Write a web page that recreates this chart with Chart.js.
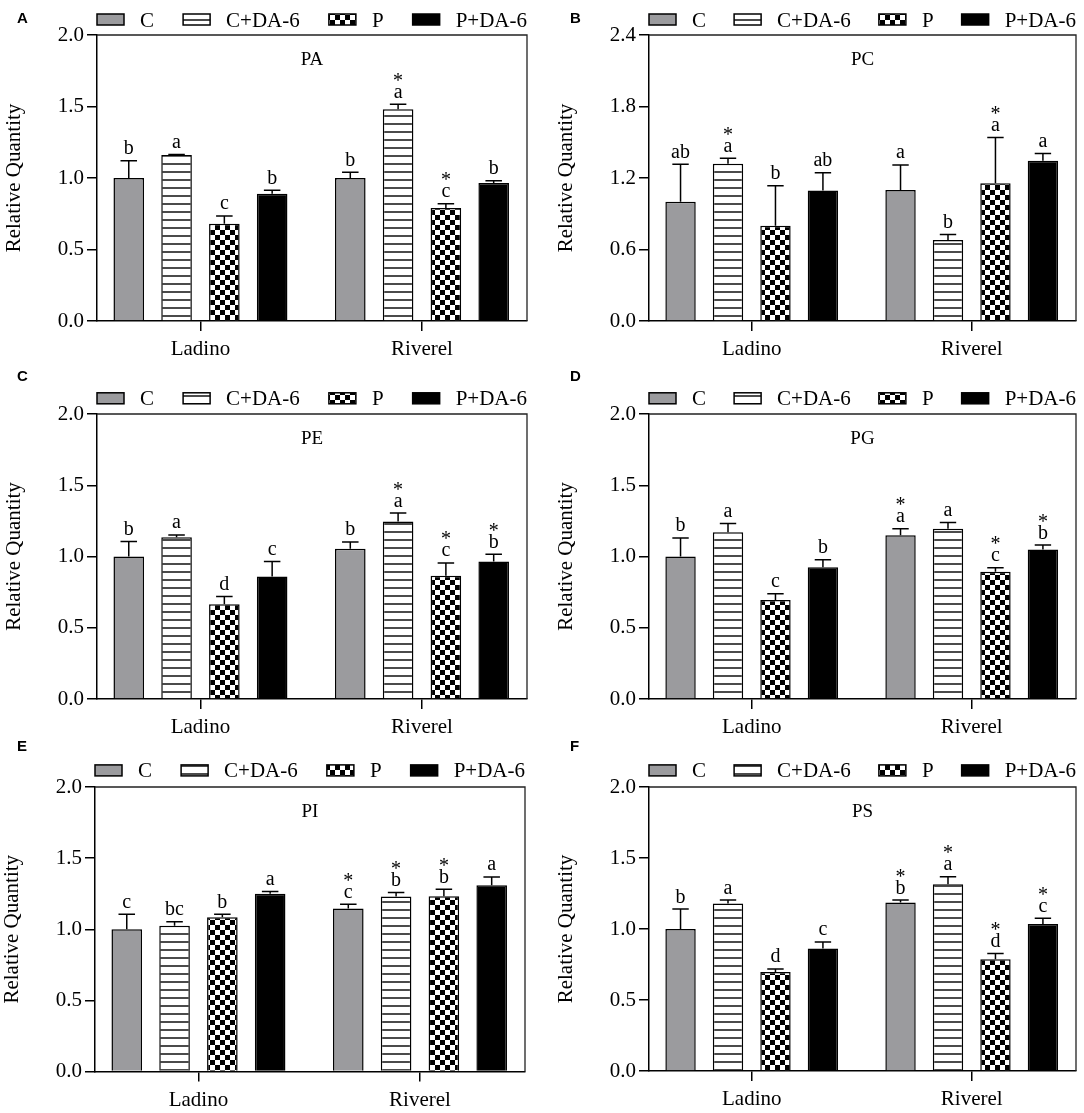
<!DOCTYPE html>
<html><head><meta charset="utf-8">
<script src="https://cdn.jsdelivr.net/npm/chart.js@4.4.1/dist/chart.umd.min.js"></script>
<style>
html,body{margin:0;padding:0;background:#fff;}
#wrap{position:relative;width:1084px;height:1113px;overflow:hidden;background:#fff;}
.pane{position:absolute;}
.pane canvas{display:block;}
</style></head><body><div id="wrap"></div>
<script>
// ---------- data ----------
const cultivars = ['Ladino', 'Riverel'];
const treatments = ['C', 'C+DA-6', 'P', 'P+DA-6'];
const panelLetters = ['A', 'B', 'C', 'D', 'E', 'F'];
const lipidNames = ['PA', 'PC', 'PE', 'PG', 'PI', 'PS'];
const yMax = [2.0, 2.4, 2.0, 2.0, 2.0, 2.0];
const yStep = [0.5, 0.6, 0.5, 0.5, 0.5, 0.5];

// rows = treatments (C, C+DA-6, P, P+DA-6), columns = cultivars (Ladino, Riverel)
const paMean = [[1.00, 1.00], [1.16, 1.48], [0.68, 0.79], [0.89, 0.965]];
const paErr  = [[0.12, 0.04], [0.005, 0.035], [0.055, 0.03], [0.025, 0.015]];
const paSig  = [['b', 'b'], ['a', 'a'], ['c', 'c'], ['b', 'b']];
const paStar = [[0, 0], [0, 1], [0, 1], [0, 0]];

const pcMean = [[1.00, 1.10], [1.32, 0.68], [0.80, 1.155], [1.095, 1.345]];
const pcErr  = [[0.315, 0.21], [0.045, 0.045], [0.335, 0.385], [0.15, 0.06]];
const pcSig  = [['ab', 'a'], ['a', 'b'], ['b', 'a'], ['ab', 'a']];
const pcStar = [[0, 0], [1, 0], [0, 1], [0, 0]];

const peMean = [[1.00, 1.055], [1.135, 1.245], [0.665, 0.865], [0.86, 0.965]];
const peErr  = [[0.105, 0.047], [0.016, 0.06], [0.055, 0.09], [0.105, 0.05]];
const peSig  = [['b', 'b'], ['a', 'a'], ['d', 'c'], ['c', 'b']];
const peStar = [[0, 0], [0, 1], [0, 1], [0, 1]];

const pgMean = [[1.00, 1.15], [1.17, 1.195], [0.695, 0.893], [0.925, 1.05]];
const pgErr  = [[0.13, 0.045], [0.062, 0.044], [0.044, 0.028], [0.052, 0.03]];
const pgSig  = [['b', 'a'], ['a', 'a'], ['c', 'c'], ['b', 'b']];
const pgStar = [[0, 1], [0, 0], [0, 1], [0, 1]];

const piMean = [[1.00, 1.145], [1.025, 1.23], [1.085, 1.232], [1.25, 1.31]];
const piErr  = [[0.105, 0.03], [0.028, 0.028], [0.02, 0.05], [0.016, 0.058]];
const piSig  = [['c', 'c'], ['bc', 'b'], ['b', 'b'], ['a', 'a']];
const piStar = [[0, 1], [0, 1], [0, 1], [0, 0]];

const psMean = [[1.00, 1.187], [1.18, 1.316], [0.698, 0.787], [0.862, 1.035]];
const psErr  = [[0.14, 0.017], [0.024, 0.052], [0.021, 0.04], [0.047, 0.04]];
const psSig  = [['b', 'b'], ['a', 'a'], ['d', 'd'], ['c', 'c']];
const psStar = [[0, 1], [0, 1], [0, 1], [0, 1]];

const means = [paMean, pcMean, peMean, pgMean, piMean, psMean];
const errs  = [paErr, pcErr, peErr, pgErr, piErr, psErr];
const sigs  = [paSig, pcSig, peSig, pgSig, piSig, psSig];
const stars = [paStar, pcStar, peStar, pgStar, piStar, psStar];

// ---------- layout (canvas box and plot area, px) ----------
// [left, top, width, height, plotL, plotR, plotT, plotB, legendY, letterX, letterBase]
const panes = [
  [0,   0,   540, 385, 97,  527, 35, 321,   19.5, 17, 23],
  [540, 0,   544, 385, 109, 536, 35, 321,   19.5, 30, 23],
  [0,   360, 540, 390, 97,  527, 54, 339,   38.3, 17, 21],
  [540, 360, 544, 390, 109, 536, 54, 339,   38.3, 30, 21],
  [0,   730, 540, 383, 95,  525, 57, 341.5, 40.4, 17, 21],
  [540, 730, 544, 383, 109, 536, 57, 341,   40.4, 30, 21]
];
const xAxisH = 60; // height reserved below the plot for the category axis
const EDGE = 0.467, SPAN = 1.941; // category-centre offsets in category units

Chart.defaults.font.family = '"Liberation Serif", "Times New Roman", serif';
Chart.defaults.color = '#000';

function makeHLines() {
  const c = document.createElement('canvas'); c.width = 8; c.height = 8;
  const g = c.getContext('2d');
  g.fillStyle = '#fff'; g.fillRect(0, 0, 8, 8);
  g.fillStyle = '#111'; g.fillRect(0, 3.25, 8, 1.5);
  return g.createPattern(c, 'repeat');
}
function makeChecker() {
  const c = document.createElement('canvas'); c.width = 10; c.height = 10;
  const g = c.getContext('2d');
  g.fillStyle = '#fff'; g.fillRect(0, 0, 10, 10);
  g.fillStyle = '#000'; g.fillRect(0, 0, 5, 5); g.fillRect(5, 5, 5, 5);
  return g.createPattern(c, 'repeat');
}

const decor = {
  id: 'decor',
  afterDatasetsDraw(chart) {
    const ctx = chart.ctx, ys = chart.scales.y;
    ctx.save();
    chart.data.datasets.forEach((ds, di) => {
      const meta = chart.getDatasetMeta(di);
      meta.data.forEach((bar, j) => {
        const v = ds.data[j].y, e = ds.err[j];
        const x = bar.x, w = bar.width;
        const yTop = ys.getPixelForValue(v + e);
        const yBar = ys.getPixelForValue(v);
        ctx.strokeStyle = '#000'; ctx.lineWidth = 1.5;
        ctx.beginPath();
        ctx.moveTo(x, yBar); ctx.lineTo(x, yTop);
        ctx.moveTo(x - w * 0.27, yTop); ctx.lineTo(x + w * 0.27, yTop);
        ctx.stroke();
        ctx.fillStyle = '#000'; ctx.textAlign = 'center'; ctx.textBaseline = 'alphabetic';
        ctx.font = '20px "Liberation Serif"';
        const base = yTop - 6.5;
        ctx.fillText(ds.sig[j], x, base);
        if (ds.star[j]) ctx.fillText('*', x, base - 11);
      });
    });
    ctx.restore();
  },
  afterDraw(chart, args, opts) {
    const ctx = chart.ctx, ca = chart.chartArea;
    ctx.save();
    // frame top/right
    ctx.strokeStyle = '#222'; ctx.lineWidth = 1.3;
    ctx.beginPath();
    ctx.moveTo(ca.left, ca.top); ctx.lineTo(ca.right, ca.top); ctx.lineTo(ca.right, ca.bottom);
    ctx.stroke();
    // legend
    ctx.font = '21px "Liberation Serif"';
    const bw = 27, bh = 11, gapT = 16;
    const dss = chart.data.datasets;
    const widths = dss.map(d => ctx.measureText(d.label).width);
    const total = widths.reduce((a, b) => a + b, 0) + dss.length * (bw + gapT);
    const gap = (ca.width - total) / (dss.length - 1);
    let x = ca.left;
    const ly = opts.legendY;
    dss.forEach((d, i) => {
      ctx.fillStyle = d.backgroundColor;
      ctx.fillRect(x, ly - bh / 2, bw, bh);
      ctx.strokeStyle = '#000'; ctx.lineWidth = 1.5;
      ctx.strokeRect(x, ly - bh / 2, bw, bh);
      ctx.fillStyle = '#000'; ctx.textAlign = 'left'; ctx.textBaseline = 'alphabetic';
      ctx.fillText(d.label, x + bw + gapT, ly + 7);
      x += bw + gapT + widths[i] + gap;
    });
    // panel title
    ctx.font = '19px "Liberation Serif"';
    ctx.textAlign = 'center';
    ctx.fillText(opts.title, (ca.left + ca.right) / 2, ca.top + 30);
    // panel letter
    ctx.font = 'bold 15px "Liberation Sans", Arial, sans-serif';
    ctx.textAlign = 'left';
    ctx.fillText(opts.letter, opts.letterX, opts.letterBase);
    ctx.restore();
  }
};

const wrap = document.getElementById('wrap');
const patterns = ['#9b9b9e', makeHLines(), makeChecker(), '#000'];

panes.forEach((p, k) => {
  const [left, top, W, H, L, R, T, B, legendY, letterX, letterBase] = p;
  const div = document.createElement('div');
  div.className = 'pane';
  div.style.left = left + 'px'; div.style.top = top + 'px';
  div.style.width = W + 'px'; div.style.height = H + 'px';
  const cv = document.createElement('canvas');
  cv.width = W; cv.height = H;
  cv.style.width = W + 'px'; cv.style.height = H + 'px';
  div.appendChild(cv); wrap.appendChild(div);

  const datasets = treatments.map((t, s) => ({
    label: t,
    data: means[k][s].map((v, i) => ({ x: i, y: v })),
    err: errs[k][s],
    sig: sigs[k][s],
    star: stars[k][s],
    backgroundColor: patterns[s],
    borderColor: '#000',
    borderWidth: 1.5,
    barPercentage: 0.64,
    categoryPercentage: 0.863
  }));

  const titlePad = Math.max(0, L - 83 - 12.6);
  const bottomPad = Math.max(0, H - B - xAxisH);
  const xH = H - B - bottomPad;

  new Chart(cv, {
    type: 'bar',
    data: { datasets },
    plugins: [decor],
    options: {
      responsive: false,
      animation: false,
      events: [],
      layout: { padding: { left: 0, right: W - R, top: T, bottom: bottomPad } },
      plugins: {
        legend: { display: false },
        tooltip: { enabled: false },
        decor: { legendY, letterX, letterBase, title: lipidNames[k], letter: panelLetters[k] }
      },
      scales: {
        x: {
          type: 'linear',
          offset: false,
          min: -EDGE, max: SPAN - EDGE,
          afterBuildTicks: (s) => { s.ticks = cultivars.map((c, i) => ({ value: i })); },
          afterFit: (s) => { s.height = xH; },
          ticks: {
            autoSkip: false, maxRotation: 0, padding: 6,
            font: { size: 21 }, color: '#000',
            callback: (v) => cultivars[v]
          },
          grid: { display: true, drawOnChartArea: false, drawTicks: true, tickLength: 10, color: '#000', lineWidth: 1.5, offset: false },
          border: { display: true, color: '#000', width: 1.5 }
        },
        y: {
          min: 0, max: yMax[k],
          afterFit: (s) => { s.width = L; },
          ticks: { stepSize: yStep[k], padding: 3, font: { size: 21 }, color: '#000', callback: (v) => v.toFixed(1) },
          grid: { display: true, drawOnChartArea: false, drawTicks: true, tickLength: 10, color: '#000', lineWidth: 1.5 },
          border: { display: true, color: '#000', width: 1.5 },
          title: { display: true, text: 'Relative Quantity', font: { size: 21 }, color: '#000', padding: { top: titlePad, bottom: 0 } }
        }
      }
    }
  });
});
</script></body></html>
